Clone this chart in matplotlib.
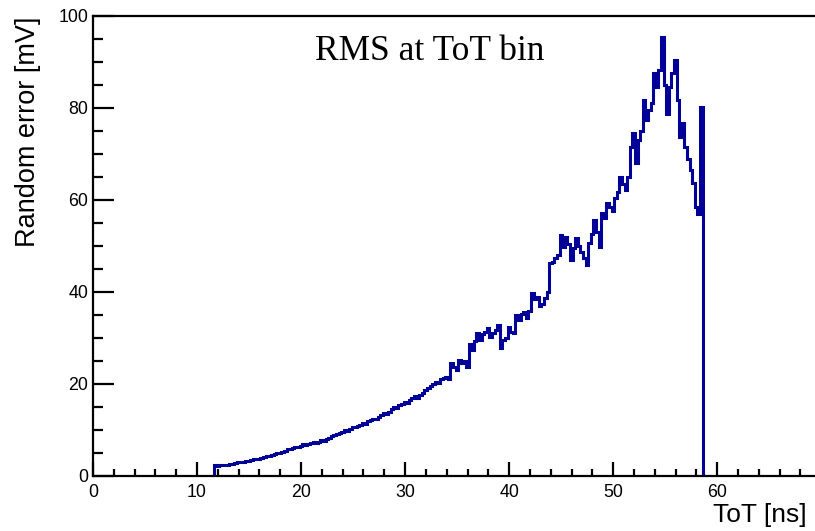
import numpy as np
import matplotlib.pyplot as plt
from matplotlib.ticker import MultipleLocator

# ToT binning: 0.25 ns bins from 11.6 ns to 58.6 ns
tot_start = 11.6
bin_width = 0.25

# RMS of the random error per ToT bin [mV], 4 bins per ns
rms_mV = [
    2.5, 2.2, 2.3, 2.3,
    2.4, 2.5, 2.6, 2.7,
    2.8, 3.0, 3.0, 3.1,
    3.3, 3.3, 3.5, 3.6,
    3.8, 3.8, 4.0, 4.1,
    4.3, 4.4, 4.6, 4.7,
    4.9, 5.0, 5.3, 5.5,
    5.8, 5.9, 6.0, 6.2,
    6.4, 6.5, 6.9, 6.7,
    6.9, 7.1, 7.3, 7.2,
    7.5, 7.8, 7.6, 8.0,
    8.3, 8.6, 8.9, 9.2,
    9.3, 9.6, 9.9, 9.8,
    10.2, 10.6, 10.7, 10.9,
    11.1, 11.5, 11.4, 11.9,
    12.2, 12.5, 12.4, 12.9,
    13.3, 13.6, 13.4, 14.0,
    14.6, 15.0, 14.8, 15.4,
    15.6, 16.0, 15.8, 16.6,
    16.9, 17.3, 16.9, 17.6,
    18.0, 18.6, 19.1, 19.6,
    20.1, 20.5, 20.3, 21.0,
    21.2, 21.6, 21.0, 24.5,
    23.6, 23.0, 25.2, 24.6,
    25.0, 23.8, 28.8, 27.5,
    29.4, 31.0, 29.6, 30.8,
    31.2, 32.1, 30.2, 31.0,
    31.7, 32.8, 27.8, 29.6,
    30.0, 32.5, 31.2, 31.0,
    35.0, 34.0, 35.2, 35.6,
    34.4, 35.9, 39.7, 38.5,
    39.0, 37.0, 37.5, 38.8,
    40.0, 46.2, 46.6, 47.3,
    48.0, 52.4, 49.8, 52.0,
    50.5, 47.0, 49.6, 51.7,
    50.0, 48.8, 47.5, 45.9,
    50.6, 52.5, 55.7, 53.0,
    49.8, 57.1, 56.0, 59.3,
    58.4, 57.6, 60.5, 61.8,
    65.1, 63.5, 62.2, 65.0,
    71.6, 74.5, 68.0, 73.0,
    75.0, 81.7, 77.4, 79.5,
    81.0, 87.5, 84.6, 88.3,
    95.5, 85.0, 78.8, 84.6,
    87.5, 90.4, 81.7, 73.8,
    76.7, 71.6, 69.0, 66.5,
    63.6, 58.5, 57.0, 80.3,
]

edges = tot_start + bin_width * np.arange(len(rms_mV) + 1)

plt.rcParams['font.family'] = 'Liberation Sans'
fig = plt.figure(figsize=(8.15, 5.31), dpi=100)
# frame runs to the right edge of the canvas, right side cut off
ax = fig.add_axes([93 / 815, 1 - 476 / 531, 722 / 815, 460 / 531])

ax.stairs(rms_mV, edges, baseline=0, color='#000099', linewidth=2.2)

ax.set_xlim(0, 69.4)
ax.set_ylim(0, 100)

ax.xaxis.set_major_locator(MultipleLocator(10))
ax.xaxis.set_minor_locator(MultipleLocator(2))
ax.yaxis.set_major_locator(MultipleLocator(20))
ax.yaxis.set_minor_locator(MultipleLocator(5))

ax.tick_params(axis='both', which='both', direction='in', width=1.6,
               top=False, right=False, labelsize=12.8, colors='black')
ax.tick_params(axis='x', which='major', length=10, pad=5.5)
ax.tick_params(axis='x', which='minor', length=5)
ax.tick_params(axis='y', which='major', length=15, pad=3.5)
ax.tick_params(axis='y', which='minor', length=7.5)

for side in ['left', 'bottom', 'top']:
    ax.spines[side].set_linewidth(1.6)
ax.spines['right'].set_visible(False)

fig.text(28 / 815, 1 - 17 / 531, 'Random error [mV]', rotation=90,
         ha='center', va='top', fontsize=19.5)
fig.text(807 / 815, 1 - 515 / 531, 'ToT [ns]', ha='right', va='center',
         fontsize=19)

ax.text(0.467, 0.922, 'RMS at ToT bin', transform=ax.transAxes,
        ha='center', va='center', fontsize=25.5, family='Liberation Serif')

plt.savefig('out.png', dpi=100)
